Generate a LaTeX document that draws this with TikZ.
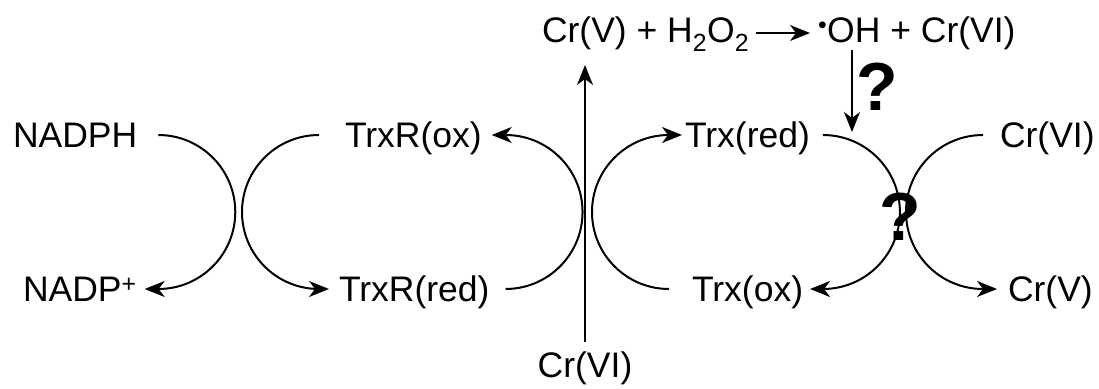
\documentclass[tikz,border=0pt]{standalone}
\usepackage{fontspec}
\setmainfont{Liberation Sans}
\usetikzlibrary{arrows.meta}
\begin{document}
\begin{tikzpicture}[x=1pt,y=1pt,
  lbl/.style={inner sep=0pt, outer sep=0pt, text height=26pt, text depth=0pt, anchor=base west,
    font=\fontsize{35.5}{40}\selectfont},
  qm/.style={inner sep=0pt, font=\fontsize{68}{76}\selectfont\bfseries},
  conn/.style={line width=2pt},
  arr/.style={conn, -{Stealth[length=20pt,width=16pt,inset=6pt]}}]
\useasboundingbox (0,0) rectangle (1099,388);
% labels
\node[lbl] (NADPH) at (13,240) {NADPH};
\node[lbl] (NADPp) at (23,86) {NADP\textsuperscript{+}};
\node[lbl] (TrxRox) at (345,240) {TrxR(ox)};
\node[lbl] (TrxRred) at (339,86) {TrxR(red)};
\node[lbl] (Trxred) at (685,240) {Trx(red)};
\node[lbl] (Trxox) at (692,86) {Trx(ox)};
\node[lbl] (CrVIr) at (1000,240) {Cr(VI)};
\node[lbl] (CrVr) at (1008,86) {Cr(V)};
\node[lbl] (CrVtop) at (542,345) {Cr(V)};
\node[lbl] (eqB) at (CrVtop.base east) {\ + H\textsubscript{2}O\textsubscript{2}};
\node[lbl] (OH) at (818,345) {\textsuperscript{•}OH};
\node[lbl] (eqD) at (OH.base east) {\ + Cr(VI)};
\node[lbl, anchor=base] (CrVIb) at (585,11) {Cr(VI)};
\node[qm] (q1) at (877,301) {?};
\node[qm] (q2) at (900,171) {?};
\coordinate (dtop) at (852,338);
\coordinate (dbot) at (852,256);
% cycles
\draw[arr] ([xshift=21pt]NADPH.east) arc[start angle=90,end angle=-90,radius=77pt] -- ([xshift=8pt]NADPp.east);
\draw[arr] ([xshift=-26pt]TrxRox.west) arc[start angle=90,end angle=270,radius=77pt] -- ([xshift=-10pt]TrxRred.west);
\draw[arr] ([xshift=16pt]TrxRred.east) arc[start angle=-90,end angle=90,radius=77pt] -- ([xshift=10pt]TrxRox.east);
\draw[arr] ([xshift=-23pt]Trxox.west) arc[start angle=270,end angle=90,radius=77pt] -- ([xshift=-3pt]Trxred.west);
\draw[arr] ([xshift=13pt]Trxred.east) arc[start angle=90,end angle=-90,radius=77pt] -- ([xshift=7pt]Trxox.east);
\draw[arr] ([xshift=-17pt]CrVIr.west) arc[start angle=90,end angle=270,radius=77pt] -- ([xshift=-11pt]CrVr.west);
% vertical Cr(VI) -> Cr(V)
\draw[arr] ([yshift=9pt]CrVIb.north) -- ([yshift=-22pt]CrVIb.north |- CrVtop.south);
% top reaction
\draw[arr] ([xshift=7pt,yshift=-3pt]eqB.east) -- ([xshift=-8pt,yshift=-3pt]OH.west);
\draw[arr] (dtop) -- (dbot);
\end{tikzpicture}
\end{document}
